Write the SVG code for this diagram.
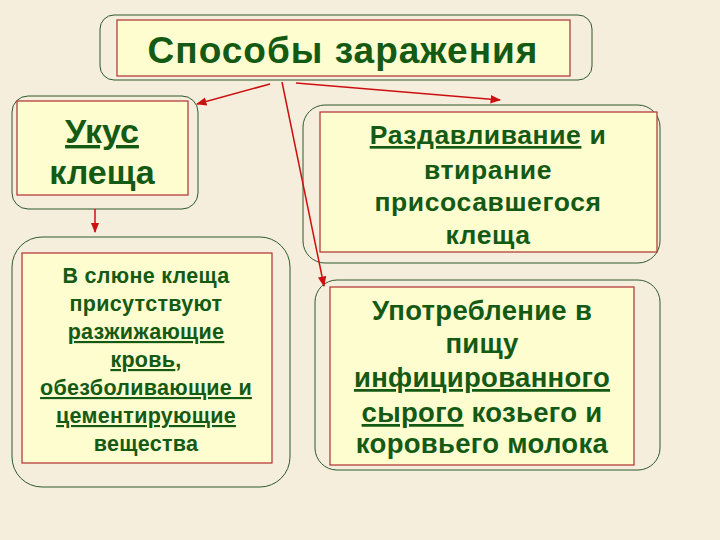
<svg xmlns="http://www.w3.org/2000/svg" width="720" height="540" viewBox="0 0 720 540">
<style>
.o{fill:none;stroke:#2d5a2d;stroke-width:1}
.i{fill:#fdfdd0;stroke:#b03030;stroke-width:1.2}
text{font-family:"Liberation Sans",Arial,sans-serif;font-weight:bold;fill:#145a14;text-anchor:middle}
.c{stroke:#cc1010;stroke-width:1.5;fill:none;marker-end:url(#a)}
</style>
<defs><marker id="a" viewBox="0 0 10 10" refX="9" refY="5" markerWidth="7" markerHeight="7" orient="auto"><path d="M0,1L10,5L0,9z" fill="#cc1010"/></marker></defs>
<rect width="720" height="540" fill="#f5eedc"/>
<g id="title"><rect class="o" x="100" y="15" width="492" height="65" rx="14"/><rect class="i" x="117" y="20" width="453" height="56"/><text x="343" y="63" font-size="37" letter-spacing="1">Способы заражения</text></g>
<g id="bite"><rect class="o" x="12" y="96" width="186" height="113" rx="16"/><rect class="i" x="17" y="101" width="171" height="94"/><text x="102" y="143" font-size="34" text-decoration="underline">Укус</text><text x="102" y="184" font-size="34">клеща</text></g>
<g id="saliva"><rect class="o" x="12" y="237" width="278" height="250" rx="30"/><rect class="i" x="22" y="253" width="250" height="210"/>
<text font-size="21.5" letter-spacing="0.3"><tspan x="146" y="283">В слюне клеща</tspan><tspan x="146" y="311">присутствуют</tspan><tspan x="146" y="339" text-decoration="underline">разжижающие</tspan><tspan x="146" y="367"><tspan text-decoration="underline">кровь</tspan>,</tspan><tspan x="146" y="395" text-decoration="underline">обезболивающие и</tspan><tspan x="146" y="423" text-decoration="underline">цементирующие</tspan><tspan x="146" y="451">вещества</tspan></text></g>
<g id="crush"><rect class="o" x="303" y="105" width="357" height="158" rx="22"/><rect class="i" x="320" y="112" width="337" height="140"/>
<text font-size="26.5" letter-spacing="0.6"><tspan x="488" y="144"><tspan text-decoration="underline">Раздавливание</tspan> и</tspan><tspan x="488" y="179">втирание</tspan><tspan x="488" y="211">присосавшегося</tspan><tspan x="488" y="244">клеща</tspan></text></g>
<g id="milk"><rect class="o" x="315" y="280" width="345" height="190" rx="22"/><rect class="i" x="330" y="287" width="304" height="178"/>
<text font-size="27.5" letter-spacing="0.3"><tspan x="482" y="320">Употребление в</tspan><tspan x="482" y="353">пищу</tspan><tspan x="482" y="387" text-decoration="underline">инфицированного</tspan><tspan x="482" y="422"><tspan text-decoration="underline">сырого</tspan> козьего и</tspan><tspan x="482" y="453">коровьего молока</tspan></text></g>
<g id="connectors">
<path class="c" d="M270,84L197,104"/><path class="c" d="M296,83L500,100"/><path class="c" d="M282,82L324,286"/><path class="c" d="M95,209L95,232"/>
</g>
</svg>
